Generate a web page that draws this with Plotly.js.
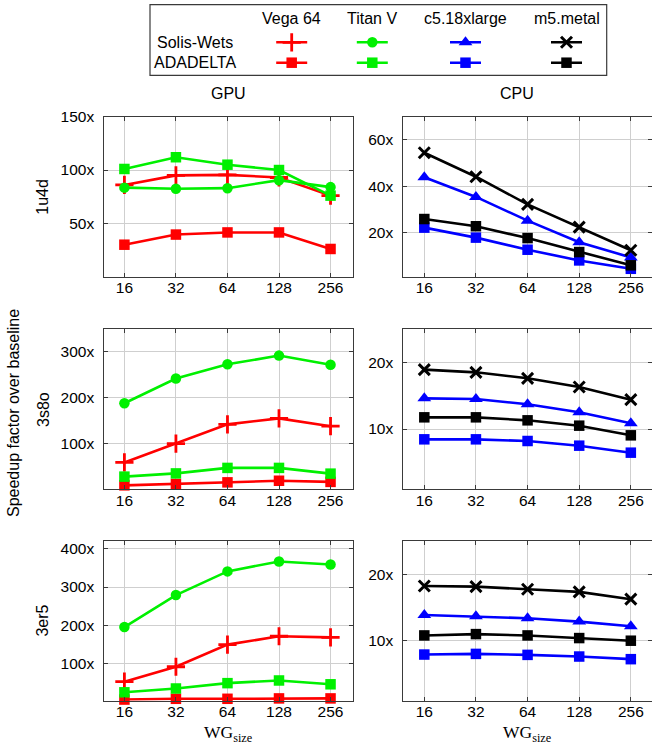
<!DOCTYPE html>
<html>
<head>
<meta charset="utf-8">
<script src="https://cdn.plot.ly/plotly-3.0.1.min.js"></script>
<style>html,body{margin:0;padding:0;background:#fff;}#chart{width:652px;height:746px;}</style>
</head>
<body>
<div id="chart"></div>
<script>
// ---------- DATA ----------
const wgSizes = ['16', '32', '64', '128', '256'];
const devices = ['Vega 64', 'Titan V', 'c5.18xlarge', 'm5.metal'];
const methods = ['Solis-Wets', 'ADADELTA'];
const proteins = ['1u4d', '3s8o', '3er5'];

// 1u4d – GPU
const u4d_vega_sw   = [86, 95, 95.5, 93, 76];
const u4d_vega_ada  = [30, 39.5, 41.5, 41.5, 26];
const u4d_titan_sw  = [83.5, 82.5, 83, 90.5, 84];
const u4d_titan_ada = [101, 112, 105, 100, 76];
// 1u4d – CPU
const u4d_c5_sw  = [44, 35.5, 25.3, 16, 9.5];
const u4d_c5_ada = [22.3, 18, 12.8, 8.2, 4.6];
const u4d_m5_sw  = [54.5, 44.2, 32.3, 22.5, 12.6];
const u4d_m5_ada = [26, 22.9, 17.8, 11.8, 6.1];

// 3s8o – GPU
const s8o_vega_sw   = [59, 100, 142, 155, 138];
const s8o_vega_ada  = [9, 12, 15.5, 19, 16.5];
const s8o_titan_sw  = [188, 242, 273, 292, 272];
const s8o_titan_ada = [28, 35, 47, 47, 34.5];
// 3s8o – CPU
const s8o_c5_sw  = [14.6, 14.5, 13.7, 12.5, 10.85];
const s8o_c5_ada = [8.45, 8.45, 8.2, 7.5, 6.45];
const s8o_m5_sw  = [18.9, 18.5, 17.6, 16.3, 14.4];
const s8o_m5_ada = [11.75, 11.75, 11.3, 10.5, 9.05];

// 3er5 – GPU
const er5_vega_sw   = [52, 91, 149, 171, 168];
const er5_vega_ada  = [5, 7, 7, 8, 8];
const er5_titan_sw  = [195, 279, 341, 367, 359];
const er5_titan_ada = [24, 34, 48, 55, 45];
// 3er5 – CPU
const er5_c5_sw  = [13.9, 13.7, 13.4, 12.9, 12.2];
const er5_c5_ada = [7.9, 8.0, 7.85, 7.6, 7.2];
const er5_m5_sw  = [18.3, 18.2, 17.8, 17.4, 16.3];
const er5_m5_ada = [10.8, 11.0, 10.8, 10.4, 10.0];

// y tick values per panel
const ticks_u4d_gpu = [50, 100, 150];
const ticks_u4d_cpu = [20, 40, 60];
const ticks_s8o_gpu = [100, 200, 300];
const ticks_s8o_cpu = [10, 20];
const ticks_er5_gpu = [100, 200, 300, 400];
const ticks_er5_cpu = [10, 20];

// ---------- STYLES ----------
const W = 652, H = 746;
const FONT = 'Liberation Sans';
const style = {
  'Vega 64':     {color: '#ff0000'},
  'Titan V':     {color: '#00f000'},
  'c5.18xlarge': {color: '#0000ff'},
  'm5.metal':    {color: '#000000'}
};
function markerFor(dev, meth) {
  const c = style[dev].color;
  if (meth === 'ADADELTA') return {symbol: 'square', size: 10.5, color: c};
  if (dev === 'Vega 64') return {symbol: 'cross-thin', size: 13, color: c, line: {color: c, width: 2.8}};
  if (dev === 'Titan V') return {symbol: 'circle', size: 10.5, color: c};
  if (dev === 'c5.18xlarge') return {symbol: 'triangle-up', size: 12, color: c};
  return {symbol: 'x-thin', size: 11, color: c, line: {color: c, width: 3}};
}

const px = x => x / W;
const py = y => 1 - y / H;

// panel geometry (pixels)
const colX = [[104.3, 352.7], [403.3, 652]];
const rowY = [[116.7, 276.7], [329, 489], [540.5, 700.7]];
const xRanges = [[-0.39, 4.43], [-0.407, 4.41]];
const yRanges = [[[0, 150], [1.2, 70]], [[1, 350], [1, 25]], [[2, 422], [0.9, 25.2]]];

const panels = [
  [{dev: ['Vega 64', 'Titan V'], d: [[u4d_vega_sw, u4d_vega_ada], [u4d_titan_sw, u4d_titan_ada]], t: ticks_u4d_gpu},
   {dev: ['c5.18xlarge', 'm5.metal'], d: [[u4d_c5_sw, u4d_c5_ada], [u4d_m5_sw, u4d_m5_ada]], t: ticks_u4d_cpu}],
  [{dev: ['Vega 64', 'Titan V'], d: [[s8o_vega_sw, s8o_vega_ada], [s8o_titan_sw, s8o_titan_ada]], t: ticks_s8o_gpu},
   {dev: ['c5.18xlarge', 'm5.metal'], d: [[s8o_c5_sw, s8o_c5_ada], [s8o_m5_sw, s8o_m5_ada]], t: ticks_s8o_cpu}],
  [{dev: ['Vega 64', 'Titan V'], d: [[er5_vega_sw, er5_vega_ada], [er5_titan_sw, er5_titan_ada]], t: ticks_er5_gpu},
   {dev: ['c5.18xlarge', 'm5.metal'], d: [[er5_c5_sw, er5_c5_ada], [er5_m5_sw, er5_m5_ada]], t: ticks_er5_cpu}]
];

const traces = [];
const layout = {
  width: W, height: H,
  margin: {l: 0, r: 0, t: 0, b: 0},
  paper_bgcolor: '#fff', plot_bgcolor: '#fff',
  showlegend: false,
  font: {family: FONT, size: 15.5, color: '#000'},
  annotations: [], shapes: []
};

let n = 0;
for (let r = 0; r < 3; r++) {
  for (let c = 0; c < 2; c++) {
    n++;
    const p = panels[r][c];
    const xa = 'x' + (n === 1 ? '' : n), ya = 'y' + (n === 1 ? '' : n);
    p.dev.forEach((dev, di) => {
      methods.forEach((meth, mi) => {
        traces.push({
          type: 'scatter', mode: 'lines+markers',
          x: wgSizes, y: p.d[di][mi],
          xaxis: xa, yaxis: ya,
          line: {color: style[dev].color, width: 2.6},
          marker: markerFor(dev, meth),
          cliponaxis: false,
          name: dev + ' ' + meth
        });
      });
    });
    const common = {
      showline: true, mirror: 'ticks', linecolor: '#3a3a3a', linewidth: 1,
      showgrid: true, gridcolor: '#cfcfcf', gridwidth: 1,
      ticks: 'inside', ticklen: 4, tickcolor: '#3a3a3a',
      zeroline: false, fixedrange: true,
      tickfont: {family: FONT, size: 15.5, color: '#000'}
    };
    layout['xaxis' + (n === 1 ? '' : n)] = Object.assign({}, common, {
      type: 'category', anchor: ya,
      domain: [px(colX[c][0]), px(colX[c][1])],
      range: xRanges[c], ticklabelstandoff: -3
    });
    layout['yaxis' + (n === 1 ? '' : n)] = Object.assign({}, common, {
      anchor: xa,
      domain: [py(rowY[r][1]), py(rowY[r][0])],
      range: yRanges[r][c],
      tickmode: 'array', tickvals: p.t, ticktext: p.t.map(v => v + 'x'),
      ticklabelstandoff: 6
    });
  }
}

// ---------- LEGEND (own axis) ----------
const legBox = {x0: 150, x1: 606.7, y0: 4.7, y1: 75.3};
const legColX = [291.7, 372.3, 465.5, 566.5];
const legRowY = [42.3, 62.7];
layout.xaxis7 = {domain: [px(legBox.x0), px(legBox.x1)], range: [legBox.x0, legBox.x1], visible: false, fixedrange: true, anchor: 'y7'};
layout.yaxis7 = {domain: [py(legBox.y1), py(legBox.y0)], range: [legBox.y1, legBox.y0], visible: false, fixedrange: true, anchor: 'x7'};
devices.forEach((dev, di) => {
  methods.forEach((meth, mi) => {
    const cx = legColX[di], cy = legRowY[mi];
    traces.push({
      type: 'scatter', mode: 'lines',
      x: [cx - 15.5, cx + 15.5], y: [cy, cy],
      xaxis: 'x7', yaxis: 'y7',
      line: {color: style[dev].color, width: 2.6},
      cliponaxis: false, hoverinfo: 'skip'
    });
    traces.push({
      type: 'scatter', mode: 'markers',
      x: [cx], y: [cy],
      xaxis: 'x7', yaxis: 'y7',
      marker: markerFor(dev, meth),
      cliponaxis: false, hoverinfo: 'skip'
    });
  });
  layout.annotations.push({xref: 'paper', yref: 'paper', x: px(legColX[di]), y: py(18.5),
    text: dev, showarrow: false, xanchor: 'center', yanchor: 'middle', font: {family: FONT, size: 16, color: '#000'}});
});
methods.forEach((meth, mi) => {
  layout.annotations.push({xref: 'paper', yref: 'paper', x: px(195), y: py(legRowY[mi]),
    text: meth, showarrow: false, xanchor: 'center', yanchor: 'middle', font: {family: FONT, size: 16, color: '#000'}});
});
layout.shapes.push({type: 'rect', xref: 'paper', yref: 'paper',
  x0: px(legBox.x0), x1: px(legBox.x1), y0: py(legBox.y1), y1: py(legBox.y0),
  line: {color: '#3a3a3a', width: 1.2}, fillcolor: 'rgba(0,0,0,0)'});

// ---------- TITLES ----------
const colCenters = [(colX[0][0] + colX[0][1]) / 2, 517];
const colNames = ['GPU', 'CPU'];
colNames.forEach((t, i) => layout.annotations.push({xref: 'paper', yref: 'paper', x: px(colCenters[i]), y: py(94),
  text: t, showarrow: false, xanchor: 'center', yanchor: 'middle', font: {family: FONT, size: 16, color: '#000'}}));
proteins.forEach((t, i) => layout.annotations.push({xref: 'paper', yref: 'paper', x: px(43), y: py((rowY[i][0] + rowY[i][1]) / 2),
  text: t, showarrow: false, textangle: -90, xanchor: 'center', yanchor: 'middle', font: {family: FONT, size: 16, color: '#000'}}));
layout.annotations.push({xref: 'paper', yref: 'paper', x: px(13), y: py(413),
  text: 'Speedup factor over baseline', showarrow: false, textangle: -90, xanchor: 'center', yanchor: 'middle',
  font: {family: FONT, size: 16, color: '#000'}});
[colCenters[0], (colX[1][0] + colX[1][1]) / 2].forEach(cx => layout.annotations.push({xref: 'paper', yref: 'paper', x: px(cx), y: 0,
  text: 'WG<sub>size</sub>', showarrow: false, xanchor: 'center', yanchor: 'bottom', yshift: -1,
  font: {family: 'Liberation Serif', size: 17.5, color: '#000'}}));

Plotly.newPlot('chart', traces, layout, {staticPlot: true, displayModeBar: false});
</script>
</body>
</html>
